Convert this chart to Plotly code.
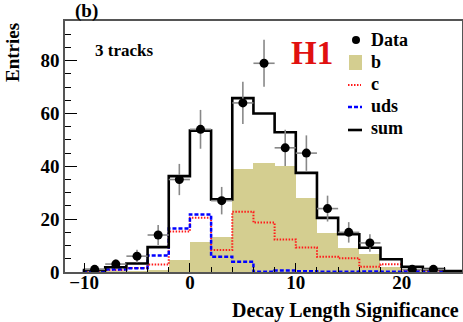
import math
import plotly.graph_objects as go

# ---------------- data ----------------
bin_edges = [-10, -8, -6, -4, -2, 0, 2, 4, 6, 8, 10, 12, 14, 16, 18, 20, 22, 24, 26]
bin_centers = [-9, -7, -5, -3, -1, 1, 3, 5, 7, 9, 11, 13, 15, 17, 19, 21, 23, 25]

b_vals = [0.05, 0.1, 0.3, 0.4, 4.5, 11.2, 13.4, 39.1, 41.2, 40.0, 27.9, 14.6, 9.0, 7.0, 1.8, 1.0, 0.5, 0.2]
c_vals = [0.3, 0.8, 1.5, 2.8, 15.3, 20.5, 8.3, 22.8, 18.7, 12.3, 9.3, 5.8, 5.2, 2.0, 2.9, 0.8, 0.5, 0.15]
uds_vals = [0.4, 0.9, 1.4, 6.2, 16.5, 21.8, 5.8, 3.9, 0.1, 0.6, 0.3, 0.1, 0.1, 0.2, 0.1, 0.2, 0.1, 0.05]
sum_vals = [b + c + u for b, c, u in zip(b_vals, c_vals, uds_vals)]

data_x = [-9, -7, -5, -3, -1, 1, 3, 5, 7, 9, 11, 13, 15, 17, 21, 23]
data_y = [1, 3, 6, 14, 35, 54, 27, 64, 79, 47, 45, 24, 15, 11, 1, 1]
data_err = [math.sqrt(v) for v in data_y]
bin_half = [1.0] * len(data_x)

x_ticks = [-10, 0, 10, 20]
y_ticks = [0, 20, 40, 60, 80]

# ---------------- figure ----------------
W, H = 463, 322
ML, MR, MT, MB = 65, 1, 21, 50
PW, PH = W - ML - MR, H - MT - MB

def px(xp):
    return (xp - ML) / PW

def py(yp):
    return (H - MB - yp) / PH

SERIF = "Liberation Serif"

def step(vals):
    return [bin_edges[0]] + bin_edges, [0] + vals + [vals[-1]]

fig = go.Figure()

fig.add_trace(go.Bar(x=bin_centers, y=b_vals, width=2,
                     marker=dict(color="#d4ce90", line=dict(width=0)),
                     showlegend=False, hoverinfo="skip"))

sx, sy = step(c_vals)
fig.add_trace(go.Scatter(x=sx, y=sy, mode="lines", line_shape="hv",
                         line=dict(color="#ff1a1a", width=2, dash="1.5px,1.5px"),
                         showlegend=False))
sx, sy = step(uds_vals)
fig.add_trace(go.Scatter(x=sx, y=sy, mode="lines", line_shape="hv",
                         line=dict(color="#0000ff", width=2.5, dash="4px,2px"),
                         showlegend=False))
sx, sy = step(sum_vals)
fig.add_trace(go.Scatter(x=sx, y=sy, mode="lines", line_shape="hv",
                         line=dict(color="black", width=2.6),
                         showlegend=False))

fig.add_trace(go.Scatter(x=data_x, y=data_y, mode="markers",
                         marker=dict(color="black", size=9),
                         error_y=dict(type="data", array=data_err, color="#888888",
                                      thickness=1.6, width=0),
                         error_x=dict(type="data", array=bin_half, color="#888888",
                                      thickness=1.6, width=0),
                         showlegend=False))

axis_common = dict(
    showgrid=False, zeroline=False, showline=True, linecolor="#555555",
    linewidth=1.5, mirror=True, ticks="inside", tickcolor="black",
    tickfont=dict(family=SERIF, size=19, color="black", weight="bold"),
    automargin=False,
)

fig.update_xaxes(range=[-11.8, 25.7], tickvals=x_ticks, ticklen=9, tickwidth=1.2,
                 ticklabelstandoff=-8,
                 minor=dict(dtick=2, tick0=0, ticklen=5, ticks="inside", tickcolor="black"),
                 **axis_common)
fig.update_yaxes(range=[0, 95], tickvals=y_ticks, ticklen=12, tickwidth=1.2,
                 minor=dict(dtick=5, tick0=0, ticklen=6, ticks="inside", tickcolor="black"),
                 **axis_common)

ann = []
def text(t, x, y, size, xanchor="center", color="black", angle=0):
    ann.append(dict(text=t, x=px(x), y=py(y), xref="paper", yref="paper",
                    xanchor=xanchor, yanchor="middle", showarrow=False,
                    textangle=angle,
                    font=dict(family=SERIF, size=size, color=color, weight="bold")))

text("(b)", 86, 11, 19)
text("Entries", 12, 53, 19, angle=-90)
text("Decay Length Significance", 461, 310, 20, xanchor="right")
text("3 tracks", 124, 50, 17)
text("H1", 312, 53, 33, color="#e01010")

leg_x_text = 369
text("Data", leg_x_text, 40, 18, xanchor="left")
text("b", leg_x_text, 62, 18, xanchor="left")
text("c", leg_x_text, 84, 18, xanchor="left")
text("uds", leg_x_text, 106, 18, xanchor="left")
text("sum", leg_x_text, 128, 18, xanchor="left")

shapes = [
    dict(type="circle", xref="paper", yref="paper", xsizemode="pixel", ysizemode="pixel",
         xanchor=px(356), yanchor=py(40), x0=-4, x1=4, y0=-4, y1=4,
         fillcolor="black", line=dict(width=0)),
    dict(type="rect", xref="paper", yref="paper", x0=px(349), x1=px(362),
         y0=py(70), y1=py(55), fillcolor="#d4ce90", line=dict(width=0)),
    dict(type="line", xref="paper", yref="paper", x0=px(348), x1=px(361),
         y0=py(85), y1=py(85), line=dict(color="#ff1a1a", width=2, dash="1.5px,1.5px")),
    dict(type="line", xref="paper", yref="paper", x0=px(348), x1=px(362),
         y0=py(107), y1=py(107), line=dict(color="#0000ff", width=2.5, dash="4px,2px")),
    dict(type="line", xref="paper", yref="paper", x0=px(348), x1=px(362),
         y0=py(130), y1=py(130), line=dict(color="black", width=2.6)),
]

fig.update_layout(
    width=W, height=H, margin=dict(l=ML, r=MR, t=MT, b=MB),
    paper_bgcolor="white", plot_bgcolor="white",
    bargap=0, annotations=ann, shapes=shapes, showlegend=False,
)

fig.write_html("out.html", config={"displayModeBar": False},
               post_script="document.body.style.margin='0';document.body.style.overflow='hidden';")
